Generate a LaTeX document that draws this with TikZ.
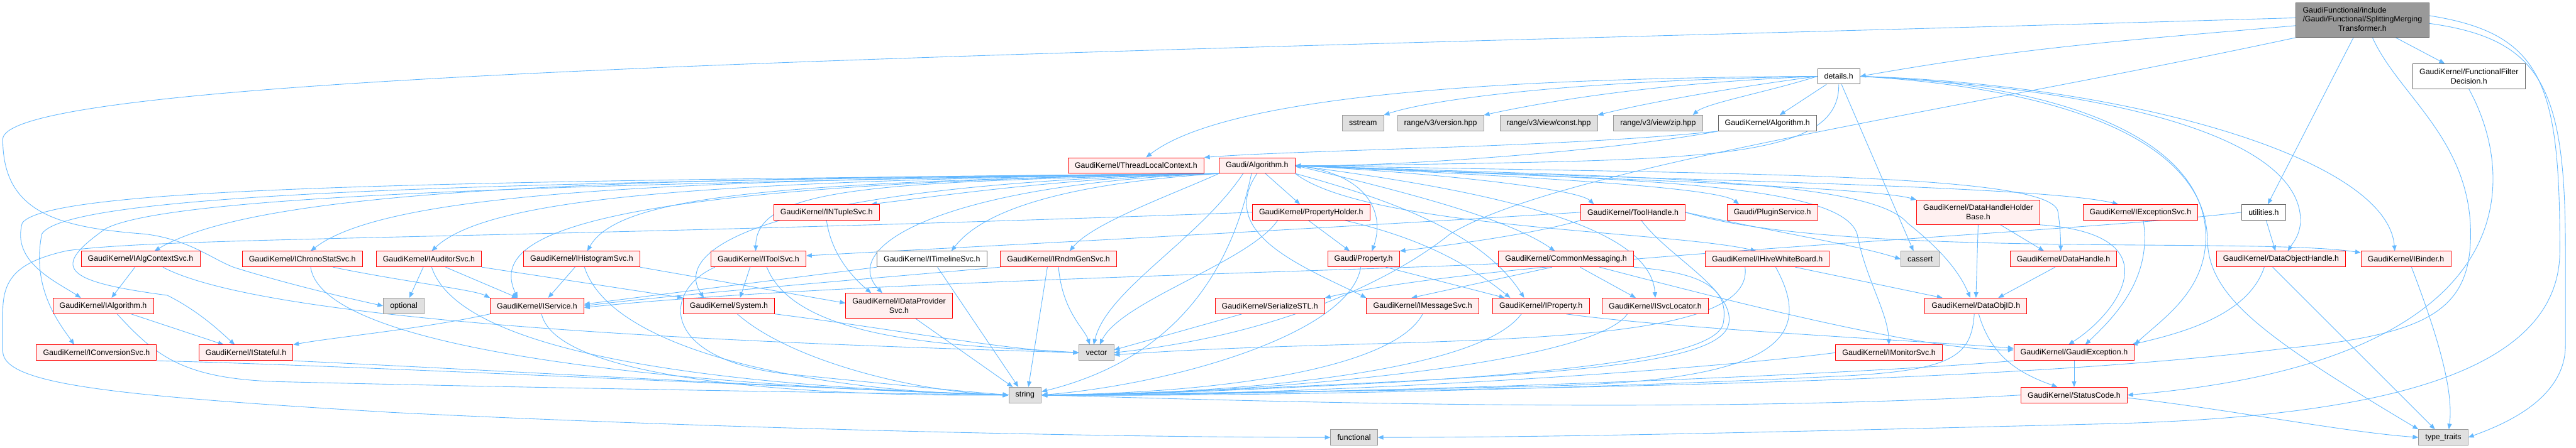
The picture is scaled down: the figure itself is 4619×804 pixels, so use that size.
\documentclass[tikz,border=0pt]{standalone}
\usepackage{fontspec}
\setmainfont{Liberation Sans}
\usetikzlibrary{arrows.meta,backgrounds}
\definecolor{edgeblue}{HTML}{63B8FF}
\definecolor{rootgray}{HTML}{999999}
\definecolor{docgray}{HTML}{666666}
\definecolor{sysfill}{HTML}{E0E0E0}
\definecolor{sysgray}{HTML}{999999}
\definecolor{truncred}{HTML}{FF0000}
\definecolor{truncfill}{HTML}{FFF0F0}
\tikzset{
  filebox/.style={rectangle,line width=1pt,align=center,inner xsep=12pt,inner ysep=3pt,minimum height=28pt,font=\fontsize{14}{16.7}\selectfont},
  rootbox/.style={filebox,fill=rootgray,draw=docgray},
  docbox/.style={filebox,fill=white,draw=docgray},
  sysbox/.style={filebox,fill=sysfill,draw=sysgray},
  truncbox/.style={filebox,fill=truncfill,draw=truncred},
  incarr/.style={-{Triangle[length=10pt,width=8pt]},draw=edgeblue,line width=1pt}
}
\begin{document}
\begin{tikzpicture}[x=1pt,y=1pt]
  \useasboundingbox (0,0) rectangle (4619,-804);
  \node[rootbox,minimum height=62pt] (root) at (4236,-36)
      {\begin{tabular}{@{}l@{}}GaudiFunctional/include\\/Gaudi/Functional/SplittingMerging\\\multicolumn{1}{@{}c@{}}{Transformer.h}\end{tabular}};
  \node[docbox] (details) at (3297,-137) {details.h};
  \node[docbox,minimum height=45pt] (ffd) at (4427,-137) {GaudiKernel/FunctionalFilter\\Decision.h};
  \node[sysbox] (sstream) at (2444,-221) {sstream};
  \node[sysbox] (rver) at (2583,-221) {range/v3/version.hpp};
  \node[sysbox] (rconst) at (2777,-221) {range/v3/view/const.hpp};
  \node[sysbox] (rzip) at (2973,-221) {range/v3/view/zip.hpp};
  \node[docbox] (kalg) at (3169,-221) {GaudiKernel/Algorithm.h};
  \node[truncbox] (tlc) at (2037,-297) {GaudiKernel/ThreadLocalContext.h};
  \node[truncbox] (galg) at (2254,-297) {Gaudi/Algorithm.h};
  \node[truncbox] (ntuple) at (1482,-381) {GaudiKernel/INTupleSvc.h};
  \node[truncbox] (propholder) at (2351,-381) {GaudiKernel/PropertyHolder.h};
  \node[truncbox] (toolhandle) at (2928,-381) {GaudiKernel/ToolHandle.h};
  \node[truncbox] (plugin) at (3178,-381) {Gaudi/PluginService.h};
  \node[truncbox,minimum height=44pt] (dhhb) at (3547,-381) {GaudiKernel/DataHandleHolder\\Base.h};
  \node[truncbox] (excsvc) at (3838,-381) {GaudiKernel/IExceptionSvc.h};
  \node[docbox] (utilities) at (4059,-381) {utilities.h};
  \node[truncbox] (algctx) at (252,-465) {GaudiKernel/IAlgContextSvc.h};
  \node[truncbox] (chrono) at (542,-465) {GaudiKernel/IChronoStatSvc.h};
  \node[truncbox] (auditor) at (769,-465) {GaudiKernel/IAuditorSvc.h};
  \node[truncbox] (histo) at (1043,-465) {GaudiKernel/IHistogramSvc.h};
  \node[truncbox] (toolsvc) at (1360,-465) {GaudiKernel/IToolSvc.h};
  \node[docbox] (timeline) at (1671,-465) {GaudiKernel/ITimelineSvc.h};
  \node[truncbox] (rndm) at (1898,-465) {GaudiKernel/IRndmGenSvc.h};
  \node[truncbox] (property) at (2445,-465) {Gaudi/Property.h};
  \node[truncbox] (commsg) at (2808,-465) {GaudiKernel/CommonMessaging.h};
  \node[truncbox] (hive) at (3169,-465) {GaudiKernel/IHiveWhiteBoard.h};
  \node[sysbox] (cassert) at (3443,-465) {cassert};
  \node[truncbox] (datahandle) at (3700,-465) {GaudiKernel/DataHandle.h};
  \node[truncbox] (dohandle) at (4090,-465) {GaudiKernel/DataObjectHandle.h};
  \node[truncbox] (binder) at (4314,-465) {GaudiKernel/IBinder.h};
  \node[truncbox] (ialg) at (185,-549) {GaudiKernel/IAlgorithm.h};
  \node[sysbox] (optional) at (724,-549) {optional};
  \node[truncbox] (service) at (963,-549) {GaudiKernel/IService.h};
  \node[truncbox] (system) at (1307,-549) {GaudiKernel/System.h};
  \node[truncbox,minimum height=45pt] (dataprov) at (1612,-549) {GaudiKernel/IDataProvider\\Svc.h};
  \node[truncbox] (serial) at (2277,-549) {GaudiKernel/SerializeSTL.h};
  \node[truncbox] (msgsvc) at (2551,-549) {GaudiKernel/IMessageSvc.h};
  \node[truncbox] (iprop) at (2763,-549) {GaudiKernel/IProperty.h};
  \node[truncbox] (svcloc) at (2968,-549) {GaudiKernel/ISvcLocator.h};
  \node[truncbox] (dataobjid) at (3543,-549) {GaudiKernel/DataObjID.h};
  \node[truncbox] (convsvc) at (173,-633) {GaudiKernel/IConversionSvc.h};
  \node[truncbox] (stateful) at (441,-633) {GaudiKernel/IStateful.h};
  \node[sysbox] (vector) at (1966,-633) {vector};
  \node[truncbox] (monitor) at (3387,-633) {GaudiKernel/IMonitorSvc.h};
  \node[truncbox] (gexc) at (3719,-633) {GaudiKernel/GaudiException.h};
  \node[sysbox] (string) at (1838,-709) {string};
  \node[truncbox] (status) at (3719,-709) {GaudiKernel/StatusCode.h};
  \node[sysbox] (functional) at (2428,-785) {functional};
  \node[sysbox] (typetraits) at (4381,-785) {type\_traits};

  \begin{pgfonlayer}{background}
    % includes of the file itself
    \draw[incarr] ([yshift=-10pt]root.west) to[out=185,in=10] (details.east);
    \draw[incarr] ([yshift=4pt]root.west) .. controls (2000,-95) and (5,-125) .. (5,-250) .. controls (5,-380) and (100,-408) .. (260,-420) .. controls (340,-430) and (380,-465) .. (420,-480) .. controls (500,-505) and (600,-530) .. (optional.west);
    \draw[incarr] (root.south west) .. controls (3500,-200) and (2800,-300) .. (2600,-420) .. controls (2500,-500) and (2300,-600) .. (vector.east);
    \draw[incarr] (root) -- (utilities);
    \draw[incarr] ([xshift=18pt]root.south) .. controls (4300,-170) and (4430,-250) .. (4430,-420) .. controls (4430,-560) and (4350,-600) .. (4100,-625) .. controls (3500,-700) and (2400,-700) .. (string.east);
    \draw[incarr] (root) -- (ffd);
    \draw[incarr] ([yshift=-6pt]root.east) .. controls (4560,-70) and (4600,-160) .. (4600,-450) -- (4600,-620) .. controls (4600,-720) and (4480,-765) .. (typetraits.east);
    \draw[incarr] ([yshift=8pt]root.east) .. controls (4560,-60) and (4590,-150) .. (4590,-450) .. controls (4590,-660) and (4300,-745) .. (3800,-760) .. controls (3200,-775) and (2800,-785) .. (functional.east);
    % details.h
    \draw[incarr] (details.west) .. controls (2800,-145) and (2560,-180) .. (sstream.north east);
    \draw[incarr] (details.west) .. controls (2950,-150) and (2760,-185) .. (rver.north east);
    \draw[incarr] (details.west) .. controls (3100,-158) and (2950,-185) .. (rconst.north east);
    \draw[incarr] (details.west) .. controls (3170,-165) and (3060,-185) .. ([xshift=-18pt]rzip.north east);
    \draw[incarr] (details) -- (kalg);
    \draw[incarr] (details.west) .. controls (2700,-140) and (2200,-170) .. ([xshift=18pt]tlc.north);
    \draw[incarr] (details.south) .. controls (3300,-300) and (3000,-285) .. ([yshift=-2pt]galg.east);
    \draw[incarr] ([xshift=5pt]details.south) -- ([xshift=-12pt]cassert.north);
    \draw[incarr] (details.east) .. controls (3800,-160) and (4130,-250) .. (4125,-400) .. controls (4122,-425) and (4112,-435) .. ([xshift=12pt]dohandle.north);
    \draw[incarr] (details.east) .. controls (3800,-150) and (4280,-280) .. ([xshift=-20pt]binder.north);
    \draw[incarr] (details.east) .. controls (3700,-150) and (3950,-250) .. (3955,-420) .. controls (3958,-520) and (3880,-570) .. (gexc.north east);
    \draw[incarr] (details.east) .. controls (3720,-160) and (3955,-260) .. (3958,-430) .. controls (3960,-530) and (4050,-600) .. (typetraits.north west);
    \draw[incarr] (kalg.south west) .. controls (2900,-270) and (2500,-300) .. (galg.east);
    \draw[incarr] (kalg.south west) .. controls (2800,-265) and (2350,-268) .. (tlc.north east);
    \draw[incarr] (ffd.south) .. controls (4520,-330) and (4520,-650) .. (status.east);
    \draw[incarr] (utilities) -- ([xshift=-10pt]dohandle.north);
    \draw[incarr] (utilities.west) .. controls (3700,-420) and (2700,-460) .. (serial.north east);
    % Gaudi/Algorithm.h
    \draw[incarr] (galg.south west) .. controls (1200,-320) and (480,-330) .. ([xshift=25pt]algctx.north);
    \draw[incarr] (galg.south west) .. controls (1250,-322) and (700,-340) .. ([xshift=15pt]chrono.north);
    \draw[incarr] (galg.south west) .. controls (1300,-324) and (880,-350) .. ([xshift=5pt]auditor.north);
    \draw[incarr] (galg.south west) .. controls (1400,-326) and (1110,-350) .. ([xshift=10pt]histo.north);
    \draw[incarr] (galg.south west) .. controls (1600,-328) and (1356,-330) .. ([xshift=-5pt]toolsvc.north);
    \draw[incarr] (galg.south west) .. controls (1900,-330) and (1760,-380) .. ([xshift=35pt]timeline.north);
    \draw[incarr] (galg.south west) .. controls (2100,-350) and (1960,-400) .. ([xshift=20pt]rndm.north);
    \draw[incarr] (galg.south west) .. controls (1900,-320) and (1700,-350) .. ([xshift=-15pt]ntuple.north east);
    \draw[incarr] (galg.south west) .. controls (1000,-330) and (880,-430) .. ([xshift=-35pt]service.north);
    \draw[incarr] (galg.south west) .. controls (1400,-330) and (1200,-440) .. ([xshift=-45pt]system.north);
    \draw[incarr] (galg.south west) .. controls (1700,-330) and (1500,-440) .. ([xshift=-30pt]dataprov.north);
    \draw[incarr] (galg.south west) .. controls (800,-325) and (90,-335) .. (40,-400) .. controls (20,-470) and (100,-505) .. ([xshift=-40pt]ialg.north);
    \draw[incarr] (galg.south west) .. controls (900,-326) and (120,-345) .. (75,-420) .. controls (55,-520) and (110,-585) .. ([xshift=-40pt]convsvc.north);
    \draw[incarr] (galg.south west) .. controls (900,-330) and (300,-355) .. (190,-410) .. controls (90,-480) and (110,-505) .. (300,-530) .. controls (360,-560) and (400,-600) .. ([xshift=-20pt]stateful.north);
    \draw[incarr] (galg.east) .. controls (2800,-320) and (3650,-330) .. ([xshift=-40pt]excsvc.north);
    \draw[incarr] (galg.east) .. controls (2800,-318) and (3350,-335) .. (dhhb.north west);
    \draw[incarr] (galg.east) .. controls (2700,-315) and (3080,-335) .. ([xshift=-60pt]plugin.north);
    \draw[incarr] (galg.east) .. controls (2600,-312) and (2830,-340) .. ([xshift=-70pt]toolhandle.north);
    \draw[incarr] ([xshift=15pt]galg.south) -- ([xshift=-20pt]propholder.north);
    \draw[incarr] (galg.east) .. controls (2450,-310) and (2485,-380) .. ([xshift=15pt]property.north);
    \draw[incarr] (galg.east) .. controls (2520,-345) and (2700,-390) .. ([xshift=-20pt]commsg.north);
    \draw[incarr] (galg.south east) .. controls (2450,-410) and (3000,-415) .. ([xshift=-20pt]hive.north);
    \draw[incarr] (galg.south) .. controls (2180,-420) and (2340,-480) .. (msgsvc.north west);
    \draw[incarr] (galg.south east) .. controls (2500,-360) and (2660,-420) .. ([xshift=-30pt]iprop.north);
    \draw[incarr] (galg.east) .. controls (2700,-345) and (2960,-410) .. (svcloc.north);
    \draw[incarr] (galg.east) .. controls (2900,-318) and (3350,-318) .. (3420,-400) .. controls (3470,-440) and (3510,-480) .. ([xshift=-10pt]dataobjid.north);
    \draw[incarr] (galg.east) .. controls (2900,-322) and (3300,-325) .. (3330,-420) .. controls (3345,-500) and (3385,-560) .. (monitor.north);
    \draw[incarr] (galg.east) .. controls (3100,-312) and (3680,-310) .. (3690,-380) .. controls (3694,-405) and (3695,-430) .. ([xshift=-5pt]datahandle.north);
    \draw[incarr] ([xshift=-25pt]galg.south) .. controls (2150,-430) and (1985,-520) .. ([xshift=-5pt]vector.north);
    \draw[incarr] ([xshift=-10pt]galg.south) .. controls (2200,-520) and (2080,-650) .. ([yshift=6pt]string.east);
    % interfaces, left part
    \draw[incarr] ([xshift=-10pt]algctx.south) -- ([xshift=15pt]ialg.north);
    \draw[incarr] ([xshift=40pt]algctx.south) .. controls (500,-590) and (1500,-620) .. (vector.west);
    \draw[incarr] ([xshift=50pt]ialg.south) -- ([xshift=-40pt]stateful.north);
    \draw[incarr] ([xshift=25pt]ialg.south) .. controls (280,-640) and (330,-680) .. (500,-685) .. controls (900,-695) and (1500,-705) .. (string.west);
    \draw[incarr] (stateful.south east) .. controls (900,-665) and (1500,-700) .. (string.west);
    \draw[incarr] (convsvc.south east) .. controls (600,-655) and (1300,-690) .. (string.west);
    \draw[incarr] ([xshift=55pt]chrono.south) .. controls (720,-505) and (850,-520) .. (service.north west);
    \draw[incarr] ([xshift=15pt]chrono.south) .. controls (580,-640) and (1300,-695) .. (string.west);
    \draw[incarr] ([xshift=-10pt]auditor.south) -- ([xshift=10pt]optional.north);
    \draw[incarr] ([xshift=30pt]auditor.south) -- ([xshift=-35pt]service.north);
    \draw[incarr] (auditor.south east) -- (system.north west);
    \draw[incarr] ([xshift=5pt]auditor.south) .. controls (820,-620) and (1200,-690) .. (string.west);
    \draw[incarr] ([xshift=-12pt]histo.south) -- ([xshift=20pt]service.north);
    \draw[incarr] (histo.south east) -- ([yshift=5pt]dataprov.west);
    \draw[incarr] ([xshift=5pt]histo.south) .. controls (1100,-640) and (1500,-705) .. (string.west);
    \draw[incarr] ([xshift=-15pt]toolsvc.south) -- ([xshift=20pt]system.north);
    \draw[incarr] ([xshift=-78pt]toolsvc.south) .. controls (1190,-520) and (1180,-640) .. (1400,-670) .. controls (1600,-690) and (1700,-700) .. (string.west);
    \draw[incarr] ([xshift=15pt]toolsvc.south) .. controls (1430,-620) and (1750,-620) .. (vector.west);
    \draw[incarr] (timeline.south west) -- ([yshift=3pt]service.east);
    \draw[incarr] ([xshift=10pt]timeline.south) -- ([xshift=-12pt]string.north);
    \draw[incarr] (rndm.south west) .. controls (1500,-505) and (1200,-530) .. (service.east);
    \draw[incarr] (rndm.south) .. controls (1905,-560) and (1945,-590) .. ([xshift=-12pt]vector.north);
    \draw[incarr] ([xshift=-20pt]rndm.south) -- ([xshift=6pt]string.north);
    \draw[incarr] (service.south west) .. controls (760,-590) and (600,-605) .. (stateful.north east);
    \draw[incarr] ([xshift=8pt]service.south) .. controls (1000,-690) and (1500,-712) .. (string.west);
    \draw[incarr] ([xshift=15pt]system.south) .. controls (1420,-650) and (1650,-705) .. (string.west);
    \draw[incarr] (system.south east) .. controls (1600,-590) and (1800,-628) .. (vector.west);
    \draw[incarr] ([xshift=30pt]dataprov.south) -- ([xshift=-22pt]string.north);
    \draw[incarr] (ntuple.south) .. controls (1490,-450) and (1520,-490) .. ([xshift=-50pt]dataprov.north);
    % interfaces, right part
    \draw[incarr] ([xshift=-5pt]propholder.south) -- ([xshift=-25pt]property.north);
    \draw[incarr] ([xshift=60pt]propholder.south) .. controls (2560,-430) and (2640,-480) .. ([xshift=-55pt]iprop.north);
    \draw[incarr] ([xshift=-60pt]propholder.south) .. controls (2240,-470) and (2010,-540) .. ([xshift=6pt]vector.north);
    \draw[incarr] (propholder.west) .. controls (900,-430) and (300,-425) .. (120,-450) .. controls (30,-470) and (5,-500) .. (5,-560) -- (5,-630) .. controls (5,-690) and (200,-710) .. (700,-740) .. controls (1300,-770) and (2000,-785) .. (functional.west);
    \draw[incarr] (toolhandle.west) .. controls (2200,-420) and (1700,-445) .. ([yshift=6pt]toolsvc.east);
    \draw[incarr] (toolhandle.south west) .. controls (2750,-420) and (2600,-440) .. (property.north east);
    \draw[incarr] ([xshift=15pt]toolhandle.south) .. controls (2990,-460) and (3110,-520) .. (3100,-580) .. controls (3090,-640) and (2900,-665) .. (2500,-685) .. controls (2200,-700) and (2000,-708) .. (string.east);
    \draw[incarr] (toolhandle.east) .. controls (3200,-420) and (3330,-440) .. (cassert.west);
    \draw[incarr] (toolhandle.east) .. controls (3300,-465) and (4050,-425) .. ([yshift=-3pt]binder.north west);
    \draw[incarr] ([xshift=-25pt]commsg.south) -- ([xshift=-20pt]msgsvc.north);
    \draw[incarr] ([xshift=25pt]commsg.south) -- ([xshift=-35pt]svcloc.north);
    \draw[incarr] ([yshift=-8pt]commsg.west) .. controls (2450,-486) and (1500,-505) .. ([yshift=-3pt]service.east);
    \draw[incarr] ([xshift=60pt]commsg.south) .. controls (3100,-540) and (3450,-630) .. ([yshift=5pt]gexc.west);
    \draw[incarr] (commsg.south east) .. controls (3060,-490) and (3100,-520) .. (3090,-580) .. controls (3080,-630) and (2900,-662) .. (2500,-686) .. controls (2200,-702) and (2000,-709) .. (string.east);
    \draw[incarr] ([xshift=40pt]property.south) -- ([xshift=-65pt]iprop.north);
    \draw[incarr] ([xshift=-5pt]property.south) .. controls (2420,-600) and (2100,-690) .. (string.east);
    \draw[incarr] (msgsvc.south) .. controls (2500,-660) and (2200,-705) .. (string.east);
    \draw[incarr] ([xshift=-35pt]iprop.south) .. controls (2650,-670) and (2200,-708) .. (string.east);
    \draw[incarr] ([xshift=45pt]iprop.south) .. controls (3000,-590) and (3450,-612) .. ([yshift=8pt]gexc.west);
    \draw[incarr] ([xshift=-50pt]svcloc.south) .. controls (2850,-660) and (2200,-710) .. (string.east);
    \draw[incarr] ([xshift=50pt]hive.south) -- ([xshift=-60pt]dataobjid.north);
    \draw[incarr] ([xshift=15pt]hive.south) .. controls (3250,-600) and (3200,-680) .. (2800,-692) .. controls (2400,-702) and (2000,-710) .. (string.east);
    \draw[incarr] ([xshift=-40pt]hive.south) .. controls (3150,-640) and (2500,-600) .. ([yshift=-4pt]vector.east);
    \draw[incarr] ([xshift=40pt]dhhb.south) -- ([xshift=-35pt]datahandle.north);
    \draw[incarr] (dhhb.south) -- (dataobjid.north);
    \draw[incarr] (dhhb.south east) .. controls (3900,-420) and (3800,-560) .. ([xshift=-10pt]gexc.north);
    \draw[incarr] ([xshift=5pt]excsvc.south) .. controls (3860,-500) and (3790,-570) .. ([xshift=20pt]gexc.north);
    \draw[incarr] ([xshift=-15pt]datahandle.south) -- ([xshift=40pt]dataobjid.north);
    \draw[incarr] ([xshift=-30pt]dohandle.south) .. controls (4030,-570) and (3900,-600) .. ([xshift=-5pt]gexc.north east);
    \draw[incarr] ([xshift=-15pt]dohandle.south) -- ([xshift=-15pt]typetraits.north);
    \draw[incarr] ([xshift=10pt]binder.south) .. controls (4370,-600) and (4400,-700) .. ([xshift=10pt]typetraits.north);
    \draw[incarr] ([xshift=-50pt]serial.south) -- ([yshift=5pt]vector.east);
    \draw[incarr] ([xshift=5pt]dataobjid.south) .. controls (3570,-640) and (3620,-670) .. ([xshift=-30pt]status.north);
    \draw[incarr] ([xshift=-3pt]dataobjid.south) .. controls (3535,-640) and (3500,-665) .. (3300,-675) .. controls (2800,-700) and (2200,-712) .. (string.east);
    \draw[incarr] (monitor.west) .. controls (3000,-670) and (2300,-712) .. (string.east);
    \draw[incarr] (gexc) -- (status);
    \draw[incarr] (gexc.south west) .. controls (3300,-675) and (2300,-712) .. (string.east);
    \draw[incarr] (status.west) .. controls (3000,-745) and (2200,-718) .. (string.east);
    \draw[incarr] ([yshift=-5pt]status.east) .. controls (4000,-735) and (4200,-775) .. (typetraits.west);
  \end{pgfonlayer}
\end{tikzpicture}
\end{document}
